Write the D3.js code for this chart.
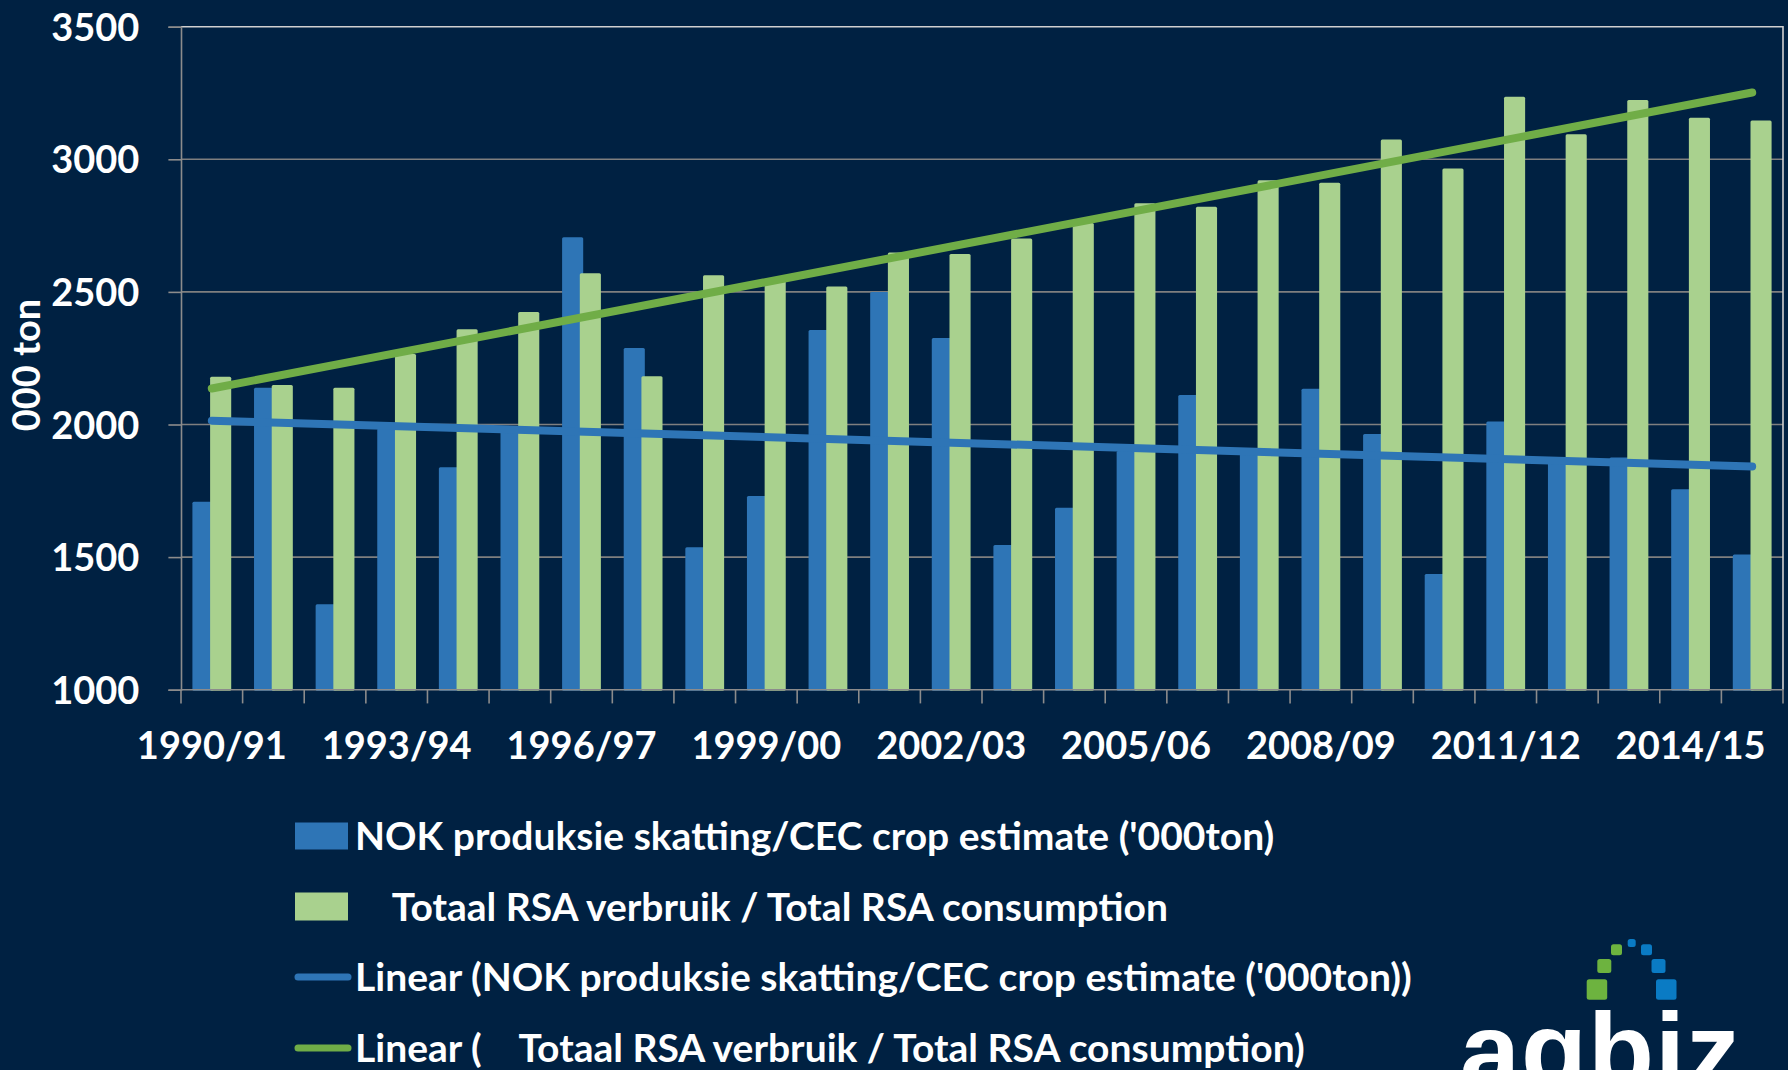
<!DOCTYPE html>
<html>
<head>
<meta charset="utf-8">
<script src="https://cdn.jsdelivr.net/npm/d3@7"></script>
<style>
  html, body { margin: 0; padding: 0; background: #002142; }
  svg { display: block; }
  text { font-family: Lato, "Open Sans", sans-serif; font-weight: bold; fill: #ffffff; }
</style>
</head>
<body>
<svg id="chart" width="1788" height="1070"></svg>
<script>
// ---- data ----
const categories = ["1990/91","1991/92","1992/93","1993/94","1994/95","1995/96","1996/97","1997/98","1998/99","1999/00",
  "2000/01","2001/02","2002/03","2003/04","2004/05","2005/06","2006/07","2007/08","2008/09","2009/10",
  "2010/11","2011/12","2012/13","2013/14","2014/15","2015/16"];
const nokCrop = [1709,2139,1322,1985,1839,1975,2706,2288,1537,1730,2356,2500,2326,1546,1686,1900,2111,1910,2135,1964,1436,2011,1875,1876,1756,1510];
const rsaConsumption = [2180,2149,2139,2266,2359,2424,2570,2182,2563,2545,2520,2649,2643,2701,2760,2834,2821,2921,2912,3075,2965,3236,3094,3224,3157,3146];
const xTickLabels = ["1990/91","1993/94","1996/97","1999/00","2002/03","2005/06","2008/09","2011/12","2014/15"];
const yTicks = [1000,1500,2000,2500,3000,3500];
const seriesNames = [
  "NOK produksie skatting/CEC crop estimate ('000ton)",
  "\u00a0\u00a0\u00a0\u00a0Totaal RSA verbruik / Total RSA consumption",
  "Linear (NOK produksie skatting/CEC crop estimate ('000ton))",
  "Linear (\u00a0\u00a0\u00a0\u00a0Totaal RSA verbruik / Total RSA consumption)"
];
const yTitle = "000 ton";

// ---- layout ----
const C = { bg:"#002142", blue:"#2E75B6", green:"#A9D18E", blueTrend:"#2E75B6", greenTrend:"#70AD47",
            grid:"#7f7f7f", border:"#d0d0d0", axis:"#8c8c8c" };
const pLeft = 181, pRight = 1783, pTop = 26.7, pBottom = 689.7;

const svg = d3.select("#chart");
svg.append("rect").attr("width",1788).attr("height",1070).attr("fill",C.bg);

const x = d3.scaleBand().domain(categories).range([pLeft, pRight]).padding(0);
const y = d3.scaleLinear().domain([1000,3500]).range([pBottom, pTop]);
const bw = x.bandwidth();
const cx = c => x(c) + bw/2;

// gridlines
svg.append("g").selectAll("line").data(yTicks.filter(v => v>1000 && v<3500)).join("line")
  .attr("x1", pLeft).attr("x2", pRight).attr("y1", d=>y(d)).attr("y2", d=>y(d))
  .attr("stroke", C.grid).attr("stroke-width", 1.6);

// bars
const barW = 21.1, half = 19.4;
svg.append("g").selectAll("rect").data(categories).join("rect")
  .attr("x", c => cx(c) - half).attr("width", barW)
  .attr("y", (c,i) => y(nokCrop[i])).attr("height", (c,i) => y(1000) - y(nokCrop[i]) + 1)
  .attr("rx", 1.5).attr("fill", C.blue);
svg.append("g").selectAll("rect").data(categories).join("rect")
  .attr("x", c => cx(c) + half - barW).attr("width", barW)
  .attr("y", (c,i) => y(rsaConsumption[i])).attr("height", (c,i) => y(1000) - y(rsaConsumption[i]) + 1)
  .attr("rx", 1.5).attr("fill", C.green);

// plot border (top + right)
svg.append("path").attr("d", `M${pLeft},${pTop}H${pRight}V${pBottom}`)
  .attr("fill","none").attr("stroke", C.border).attr("stroke-width", 1.6);

// linear trend lines (least squares, as the spreadsheet does)
function linFit(vals){
  const n = vals.length, xm = (n-1)/2, ym = d3.mean(vals);
  let sxy=0, sxx=0;
  vals.forEach((v,i)=>{ sxy += (i-xm)*(v-ym); sxx += (i-xm)*(i-xm); });
  const b = sxy/sxx, a = ym - b*xm;
  return [a, a + b*(n-1)];
}
const line = d3.line().x(d=>d[0]).y(d=>y(d[1]));
[[nokCrop, C.blueTrend],[rsaConsumption, C.greenTrend]].forEach(([vals,col])=>{
  const [v0,v1] = linFit(vals);
  svg.append("path")
    .attr("d", line([[cx(categories[0]), v0],[cx(categories[categories.length-1]), v1]]))
    .attr("fill","none").attr("stroke", col).attr("stroke-width", 8).attr("stroke-linecap","round");
});

// y axis
const yAxis = d3.axisLeft(y).tickValues(yTicks).tickSize(12.6).tickPadding(29).tickFormat(d3.format("d"));
const gy = svg.append("g").attr("transform", `translate(${pLeft},0)`).call(yAxis);
gy.select(".domain").attr("stroke", C.axis).attr("stroke-width", 1.6);
gy.selectAll(".tick line").attr("stroke", C.axis).attr("stroke-width", 1.6);
gy.selectAll(".tick text").attr("fill","#fff").style("font-size","38px").style("font-family","Lato, sans-serif").style("font-weight","bold").attr("dy","0.36em");

// x axis: ticks at category boundaries
const bounds = d3.range(categories.length+1).map(i => pLeft + i*bw);
const gxTicks = svg.append("g");
gxTicks.append("line").attr("x1", pLeft).attr("x2", pRight).attr("y1", pBottom).attr("y2", pBottom)
  .attr("stroke", C.axis).attr("stroke-width", 1.6);
gxTicks.selectAll("line.t").data(bounds).join("line").attr("class","t")
  .attr("x1", d=>d).attr("x2", d=>d).attr("y1", pBottom).attr("y2", pBottom+13.7)
  .attr("stroke", C.axis).attr("stroke-width", 1.6);
const xAxis = d3.axisBottom(x).tickValues(xTickLabels).tickSize(0).tickPadding(0);
const gx = svg.append("g").attr("transform", `translate(0,${pBottom})`).call(xAxis);
gx.select(".domain").remove();
gx.selectAll(".tick text").attr("fill","#fff").style("font-size","38px").style("font-family","Lato, sans-serif").style("font-weight","bold")
  .attr("y", 69).attr("dy", 0);

// y title
svg.append("text").attr("transform","translate(40,365) rotate(-90)").attr("text-anchor","middle")
  .style("font-size","38px").text(yTitle);

// legend
const lg = svg.append("g");
const rowsY = [836, 906.5, 977, 1048];
const swatchX = 295;
lg.append("rect").attr("x", swatchX).attr("y", rowsY[0]-13.5).attr("width", 53).attr("height", 27).attr("fill", C.blue);
lg.append("rect").attr("x", swatchX).attr("y", rowsY[1]-14).attr("width", 53).attr("height", 28).attr("fill", C.green);
lg.append("line").attr("x1", swatchX+3).attr("x2", swatchX+53).attr("y1", rowsY[2]).attr("y2", rowsY[2])
  .attr("stroke", C.blueTrend).attr("stroke-width", 7).attr("stroke-linecap","round");
lg.append("line").attr("x1", swatchX+3).attr("x2", swatchX+53).attr("y1", rowsY[3]).attr("y2", rowsY[3])
  .attr("stroke", C.greenTrend).attr("stroke-width", 7).attr("stroke-linecap","round");
lg.selectAll("text").data(seriesNames).join("text")
  .attr("x", 355).attr("y", (d,i)=>rowsY[i]).attr("dy","0.36em")
  .style("font-size","39px").text(d=>d);

// logo
const logo = svg.append("g");
const sq = [[1586.7,979.3,20.5,"#6DB33F"],[1597.3,959,14,"#6DB33F"],[1611,944.3,11,"#6DB33F"],
            [1627.7,939,8,"#0A7BC4"],[1641,944.3,11,"#0A7BC4"],[1651.5,959,14,"#0A7BC4"],[1656,979.3,20.5,"#0A7BC4"]];
logo.selectAll("rect").data(sq).join("rect")
  .attr("x",d=>d[0]).attr("y",d=>d[1]).attr("width",d=>d[2]).attr("height",d=>d[2]).attr("rx",2.5).attr("fill",d=>d[3]);
logo.append("text").attr("x",1460).attr("y",1088)
  .style("font-family","'Liberation Sans', Arial, sans-serif").style("font-size","108px").style("font-weight","bold")
  .style("letter-spacing","1px").text("agbiz");
</script>
</body>
</html>
